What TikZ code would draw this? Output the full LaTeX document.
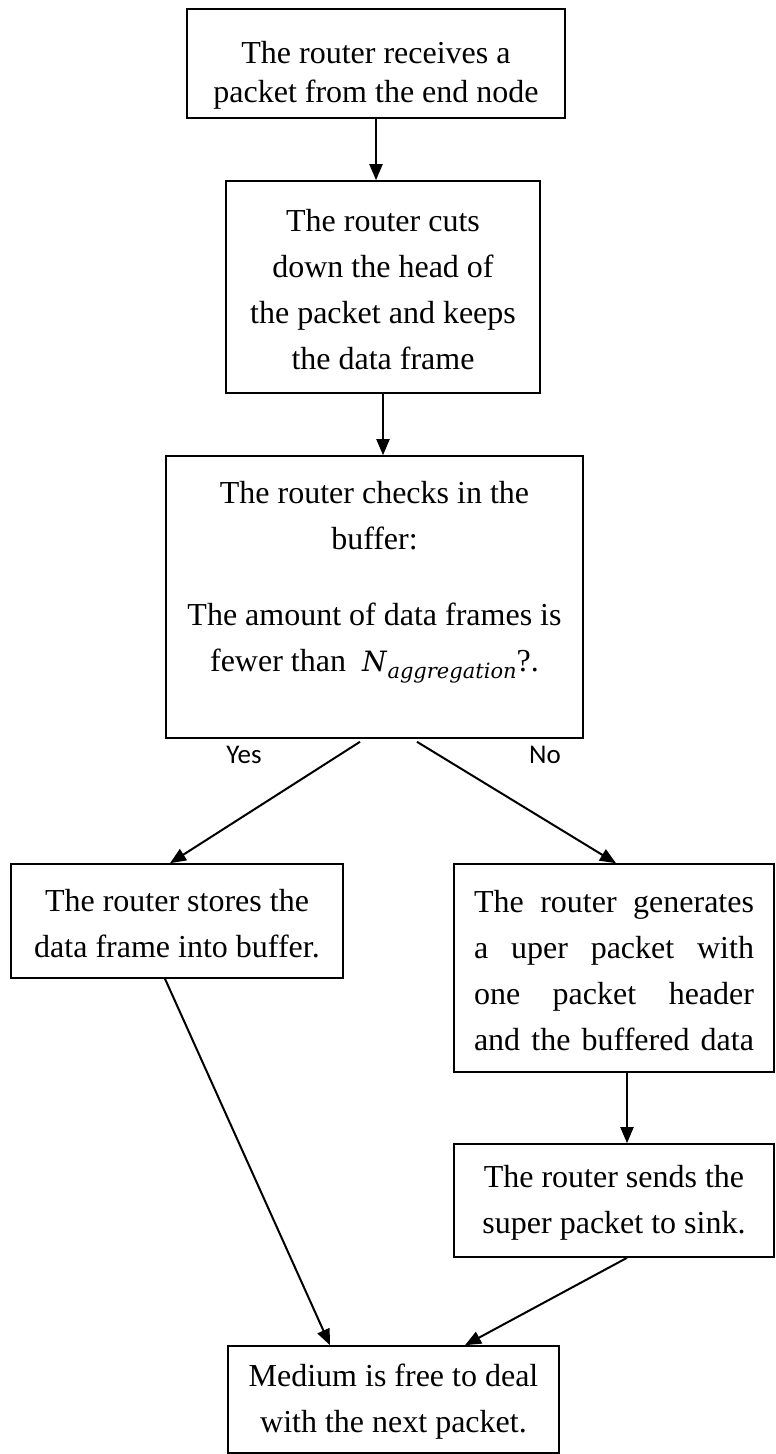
\documentclass[tikz,border=0pt]{standalone}
\usepackage{fontspec}
\setmainfont{Liberation Serif}
\newfontfamily\labelfont{Carlito}
\newfontfamily\mathitfont{DejaVu Serif}[ItalicFont={DejaVu Serif Italic}]
\usetikzlibrary{arrows.meta}
% N with subscript "aggregation", set in a wide serif italic
\newcommand{\Nagg}{{\mathitfont\itshape\fontsize{28}{28}\selectfont N\kern1pt\raisebox{-7pt}{\fontsize{21}{21}\selectfont aggregation}}}
\begin{document}
\begin{tikzpicture}[x=1pt,y=-1pt,
  box/.style={draw, line width=1.6pt, inner sep=0pt},
  txt/.style={align=center, inner sep=0pt, font=\fontsize{32}{46}\selectfont},
  arr/.style={line width=2pt, -{Triangle[length=16pt,width=13pt]}},
  yn/.style={font=\labelfont\fontsize{27}{30}\selectfont, inner sep=0pt}]
\useasboundingbox (0,0) rectangle (776,1454);

% process boxes
\node[box, minimum width=378pt, minimum height=109pt] (b1) at (376,63.5) {};
\node[box, minimum width=314pt, minimum height=212pt] (b2) at (383,287) {};
\node[box, minimum width=417pt, minimum height=282pt] (b3) at (374.5,597) {};
\node[box, minimum width=332pt, minimum height=114pt] (b4) at (177,921) {};
\node[box, minimum width=320pt, minimum height=208pt] (b5) at (614,968) {};
\node[box, minimum width=320pt, minimum height=113pt] (b6) at (614,1200.5) {};
\node[box, minimum width=331pt, minimum height=107pt] (b7) at (393.5,1399.5) {};

% box texts
\node[txt, font=\fontsize{32}{39}\selectfont] (t1) at (376,75) {The router receives a\\packet from the end node};
\node[txt] (t2) at (383,290) {The router cuts\\down the head of\\the packet and keeps\\the data frame};
\node[txt] (t3) at (374.5,582) {The router checks in the\\buffer:\\[30pt]The amount of data frames is\\fewer than~~\Nagg?.};
\node[txt] (t4) at (177,924) {The router stores the\\data frame into buffer.};
\node[txt, text width=280pt] (t5) at (614,971) {The\hfill router\hfill generates\\a\hfill uper\hfill packet\hfill with\\one\hfill packet\hfill header\\and\hfill the\hfill buffered\hfill data};
\node[txt] (t6) at (614,1203) {The router sends the\\super packet to sink.};
\node[txt] (t7) at (393.5,1402) {Medium is free to deal\\with the next packet.};

% branch labels
\node[yn] (yes) at (244,755) {Yes};
\node[yn] (no) at (545,755) {No};

% connectors
\draw[arr] (b1.south) -- (b1.south |- b2.north);
\draw[arr] (b2.south) -- (b2.south |- b3.north);
\draw[arr] ([xshift=-14.5pt,yshift=-3pt]b3.south) -- ([xshift=-7pt]b4.north);
\draw[arr] ([xshift=42.5pt,yshift=-3pt]b3.south) -- ([xshift=2pt]b5.north);
\draw[arr] ([xshift=13pt]b5.south) -- ([xshift=13pt]b6.north);
\draw[arr] ([xshift=-12pt]b4.south) -- ([xshift=-63.5pt]b7.north);
\draw[arr] ([xshift=13pt]b6.south) -- ([xshift=71.5pt]b7.north);
\end{tikzpicture}
\end{document}
